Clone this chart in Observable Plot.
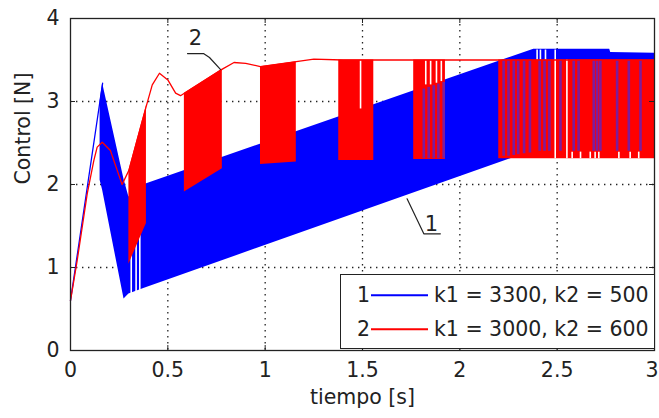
<!DOCTYPE html>
<html><head><meta charset="utf-8">
<script src="https://cdn.jsdelivr.net/npm/d3@7"></script>
<script src="https://cdn.jsdelivr.net/npm/@observablehq/plot@0.6"></script>
<style>
html,body{margin:0;padding:0;background:#fff;}
#wrap{position:relative;width:659px;height:418px;overflow:hidden;font-family:"DejaVu Sans",sans-serif;}
#legend{position:absolute;left:340px;top:274px;width:313px;height:73px;border:1px solid #222;background:#fff;font-size:20.5px;color:#222;}
#legend .num{position:absolute;line-height:1;transform:translateY(-50%);}
#legend .ln{position:absolute;height:1.5px;transform:translateY(-50%);}
#legend .lab{position:absolute;line-height:1;transform:translateY(-50%);white-space:nowrap;}
</style></head><body>
<div id="wrap"></div>
<script>
// ---- axes ----
const xTicks = [0, 0.5, 1, 1.5, 2, 2.5, 3];
const xTickLabels = ["0", "0.5", "1", "1.5", "2", "2.5", "3"];
const yTicks = [0, 1, 2, 3, 4];
const yTickLabels = ["0", "1", "2", "3", "4"];
const xLabel = "tiempo [s]";
const yLabel = "Control [N]";

// ---- series 1 (blue, k1 = 3300, k2 = 500) ----
const blueRiseT = [0, 0.165];
const blueRiseY = [0.6, 3.22];
// chattering envelope (lower / upper)
const blueBandT  = [0.152, 0.165, 0.275, 0.30, 0.38, 2.38, 2.385, 2.77, 2.775, 3.0];
const blueBandLo = [2.05,  1.93,  0.62,  0.68, 0.75, 2.41, 2.40,  2.40, 2.40,  2.40];
const blueBandHi = [3.0,   3.22,  2.06,  1.85, 2.0,  3.63, 3.63,  3.63, 3.59,  3.58];
// early gaps in the blue switching
const blueGapT = [0.312, 0.337, 0.356];
const blueGapLo = [0.66, 0.68, 0.70];
const blueGapHi = [1.4, 1.5, 1.6];

// ---- series 2 (red, k1 = 3000, k2 = 600) ----
const redLineT = [0, 0.034, 0.086, 0.12, 0.137, 0.163, 0.205, 0.24, 0.265, 0.30, 0.39, 0.42, 0.457, 0.50, 0.54, 0.565, 0.585, 0.78, 0.84, 0.90, 0.975, 1.16, 1.25, 1.40, 3.0];
const redLineY = [0.6, 1.08, 1.89, 2.29, 2.45, 2.51, 2.41, 2.17, 2.0, 2.17, 2.95, 3.2, 3.34, 3.26, 3.1, 3.07, 3.1, 3.39, 3.47, 3.46, 3.42, 3.48, 3.51, 3.5, 3.5];
// chattering bursts (lower / upper edge)
const redBandId = [1, 1, 2, 2, 3, 3, 4, 4, 5, 5, 6, 6];
const redBandT  = [0.30, 0.39, 0.585, 0.78, 0.976, 1.16, 1.378, 1.558, 1.763, 1.926, 2.20, 3.0];
const redBandLo = [1.04, 1.53, 1.91, 2.19, 2.24, 2.27, 2.29, 2.29, 2.30, 2.30, 2.31, 2.31];
const redBandHi = [2.17, 2.95, 3.10, 3.39, 3.42, 3.48, 3.50, 3.50, 3.50, 3.50, 3.50, 3.50];

// overlap of both signals (purple streaks)
const mixT  = [1.815, 1.84, 1.866, 1.89, 1.917, 2.225, 2.25, 2.277, 2.30, 2.33, 2.36, 2.41, 2.435, 2.46, 2.517, 2.585, 2.61, 2.688, 2.705, 2.722, 2.808, 2.868, 2.928];
const mixLo = [2.31, 2.31, 2.31, 2.31, 2.31, 2.34, 2.34, 2.35, 2.36, 2.37, 2.38, 2.40, 2.40, 2.40, 2.40, 2.40, 2.40, 2.40, 2.40, 2.40, 2.40, 2.40, 2.40];
const mixHi = [3.15, 3.17, 3.19, 3.21, 3.23, 3.50, 3.50, 3.50, 3.50, 3.50, 3.50, 3.50, 3.50, 3.50, 3.50, 3.50, 3.50, 3.50, 3.50, 3.50, 3.50, 3.50, 3.50];
// white gaps between switchings
const gapT  = [1.49, 1.825, 1.85, 1.88, 1.905, 2.397, 2.414, 2.44, 2.49, 2.55, 2.577, 2.62, 2.67, 2.695, 2.714, 2.817, 2.875, 2.919];
const gapLo = [2.91, 3.20, 3.20, 3.22, 3.24, 3.50, 3.50, 3.50, 2.31, 2.31, 2.31, 2.31, 2.31, 2.31, 2.31, 2.31, 2.31, 2.31];
const gapHi = [3.49, 3.49, 3.49, 3.49, 3.49, 3.62, 3.62, 3.62, 3.62, 3.50, 2.39, 2.39, 2.39, 2.39, 2.39, 2.39, 2.39, 2.39];

// ---- annotations ----
const ann2LineT = [0.601, 0.683, 0.714, 0.770];
const ann2LineY = [3.578, 3.578, 3.53, 3.386];
const ann2Text = {t: 0.642, y: 3.76, label: "2"};
const ann1LineT = [1.729, 1.815, 1.900];
const ann1LineY = [1.828, 1.406, 1.406];
const ann1Text = {t: 1.854, y: 1.52, label: "1"};

// ---- legend ----
const legendNums = ["1", "2"];
const legendLabels = ["k1 = 3300, k2 = 500", "k1 = 3000, k2 = 600"];
const legendColors = ["#0000ff", "#ff0000"];

// ---------- build ----------
const W = 659, H = 418, mL = 70, mR = 5, mT = 18, mB = 68;
const pxX = (W - mL - mR) / 3, pxY = (H - mT - mB) / 4;
const tickLenX = 5 / pxX, tickLenY = 5 / pxY;
const ink = "#222";

const zip = (ts, ...cols) => ts.map((t, i) => { const o = {t}; cols.forEach(([k, a]) => o[k] = a[i]); return o; });

const blueRise = zip(blueRiseT, ["y", blueRiseY]);
const blueBand = zip(blueBandT, ["lo", blueBandLo], ["hi", blueBandHi]);
const blueGaps = zip(blueGapT, ["lo", blueGapLo], ["hi", blueGapHi]);
const redLine = zip(redLineT, ["y", redLineY]);
const redBand = zip(redBandT, ["lo", redBandLo], ["hi", redBandHi], ["id", redBandId]);
const mix = zip(mixT, ["lo", mixLo], ["hi", mixHi]);
const gaps = zip(gapT, ["lo", gapLo], ["hi", gapHi]);
const ann2 = zip(ann2LineT, ["y", ann2LineY]);
const ann1 = zip(ann1LineT, ["y", ann1LineY]);

const innerX = xTicks.slice(0, -1);
const lastX = xTicks[xTicks.length - 1];

const chart = Plot.plot({
  width: W, height: H,
  marginLeft: mL, marginRight: mR, marginTop: mT, marginBottom: mB,
  x: {domain: [0, 3]},
  y: {domain: [0, 4]},
  style: {fontFamily: "DejaVu Sans, sans-serif", fontSize: "20.5px", color: ink, background: "white", overflow: "visible"},
  marks: [
    // grid
    Plot.ruleX(xTicks.slice(1, -1), {stroke: ink, strokeWidth: 1.3, strokeDasharray: "1.4,4.6"}),
    Plot.ruleY(yTicks.slice(1, -1), {stroke: ink, strokeWidth: 1.3, strokeDasharray: "1.4,4.6"}),
    // series 1
    Plot.areaY(blueBand, {x: "t", y1: "lo", y2: "hi", fill: "#0000ff"}),
    Plot.ruleX(blueGaps, {x: "t", y1: "lo", y2: "hi", stroke: "white", strokeWidth: 1.6}),
    Plot.line(blueRise, {x: "t", y: "y", stroke: "#0000ff", strokeWidth: 1.3}),
    // series 2
    Plot.areaY(redBand, {x: "t", y1: "lo", y2: "hi", z: "id", fill: "#ff0000"}),
    Plot.ruleX(mix, {x: "t", y1: "lo", y2: "hi", stroke: "#7e1c9a", strokeWidth: 2.6}),
    Plot.ruleX(gaps, {x: "t", y1: "lo", y2: "hi", stroke: "white", strokeWidth: 1.6}),
    Plot.line(redLine, {x: "t", y: "y", stroke: "#ff0000", strokeWidth: 1.3}),
    // frame and inward ticks
    Plot.frame({stroke: ink, strokeWidth: 1.3}),
    Plot.ruleX(xTicks, {y1: 0, y2: tickLenY, stroke: ink}),
    Plot.ruleX(xTicks, {y1: 4 - tickLenY, y2: 4, stroke: ink}),
    Plot.ruleY(yTicks, {x1: 0, x2: tickLenX, stroke: ink}),
    Plot.ruleY(yTicks, {x1: 3 - tickLenX, x2: 3, stroke: ink}),
    // axes
    Plot.axisX(innerX, {tickSize: 0, tickPadding: 12, tickFormat: d => xTickLabels[xTicks.indexOf(d)], label: null, fontSize: 20.5, fill: ink}),
    Plot.text([lastX], {x: d => d, y: 0, text: d => xTickLabels[xTicks.indexOf(d)], textAnchor: "end", dx: 4, dy: 12, lineAnchor: "top", fontSize: 20.5, fill: ink}),
    Plot.axisY(yTicks, {tickSize: 0, tickPadding: 11, tickFormat: d => yTickLabels[yTicks.indexOf(d)], label: null, fontSize: 20.5, fill: ink}),
    Plot.text([xLabel], {frameAnchor: "bottom", dy: 53, fontSize: 20.5, fill: ink}),
    Plot.text([yLabel], {frameAnchor: "left", rotate: -90, dx: -47, fontSize: 20.5, fill: ink}),
    // annotations
    Plot.line(ann2, {x: "t", y: "y", stroke: ink, strokeWidth: 1.2}),
    Plot.text([ann2Text], {x: "t", y: "y", text: "label", fontSize: 21, fill: ink}),
    Plot.line(ann1, {x: "t", y: "y", stroke: ink, strokeWidth: 1.2}),
    Plot.text([ann1Text], {x: "t", y: "y", text: "label", fontSize: 21, fill: ink})
  ]
});
const wrap = document.getElementById("wrap");
wrap.appendChild(chart);

// legend (HTML overlay)
const lg = document.createElement("div");
lg.id = "legend";
const rowY = [20, 54];
legendNums.forEach((n, i) => {
  const num = document.createElement("span");
  num.className = "num"; num.textContent = n;
  num.style.left = "16px"; num.style.top = rowY[i] + "px";
  const ln = document.createElement("span");
  ln.className = "ln"; ln.style.left = "30px"; ln.style.width = "57px";
  ln.style.top = rowY[i] + "px"; ln.style.background = legendColors[i];
  const lab = document.createElement("span");
  lab.className = "lab"; lab.textContent = legendLabels[i];
  lab.style.left = "93px"; lab.style.top = rowY[i] + "px";
  lg.append(num, ln, lab);
});
wrap.appendChild(lg);
</script>
</body></html>
